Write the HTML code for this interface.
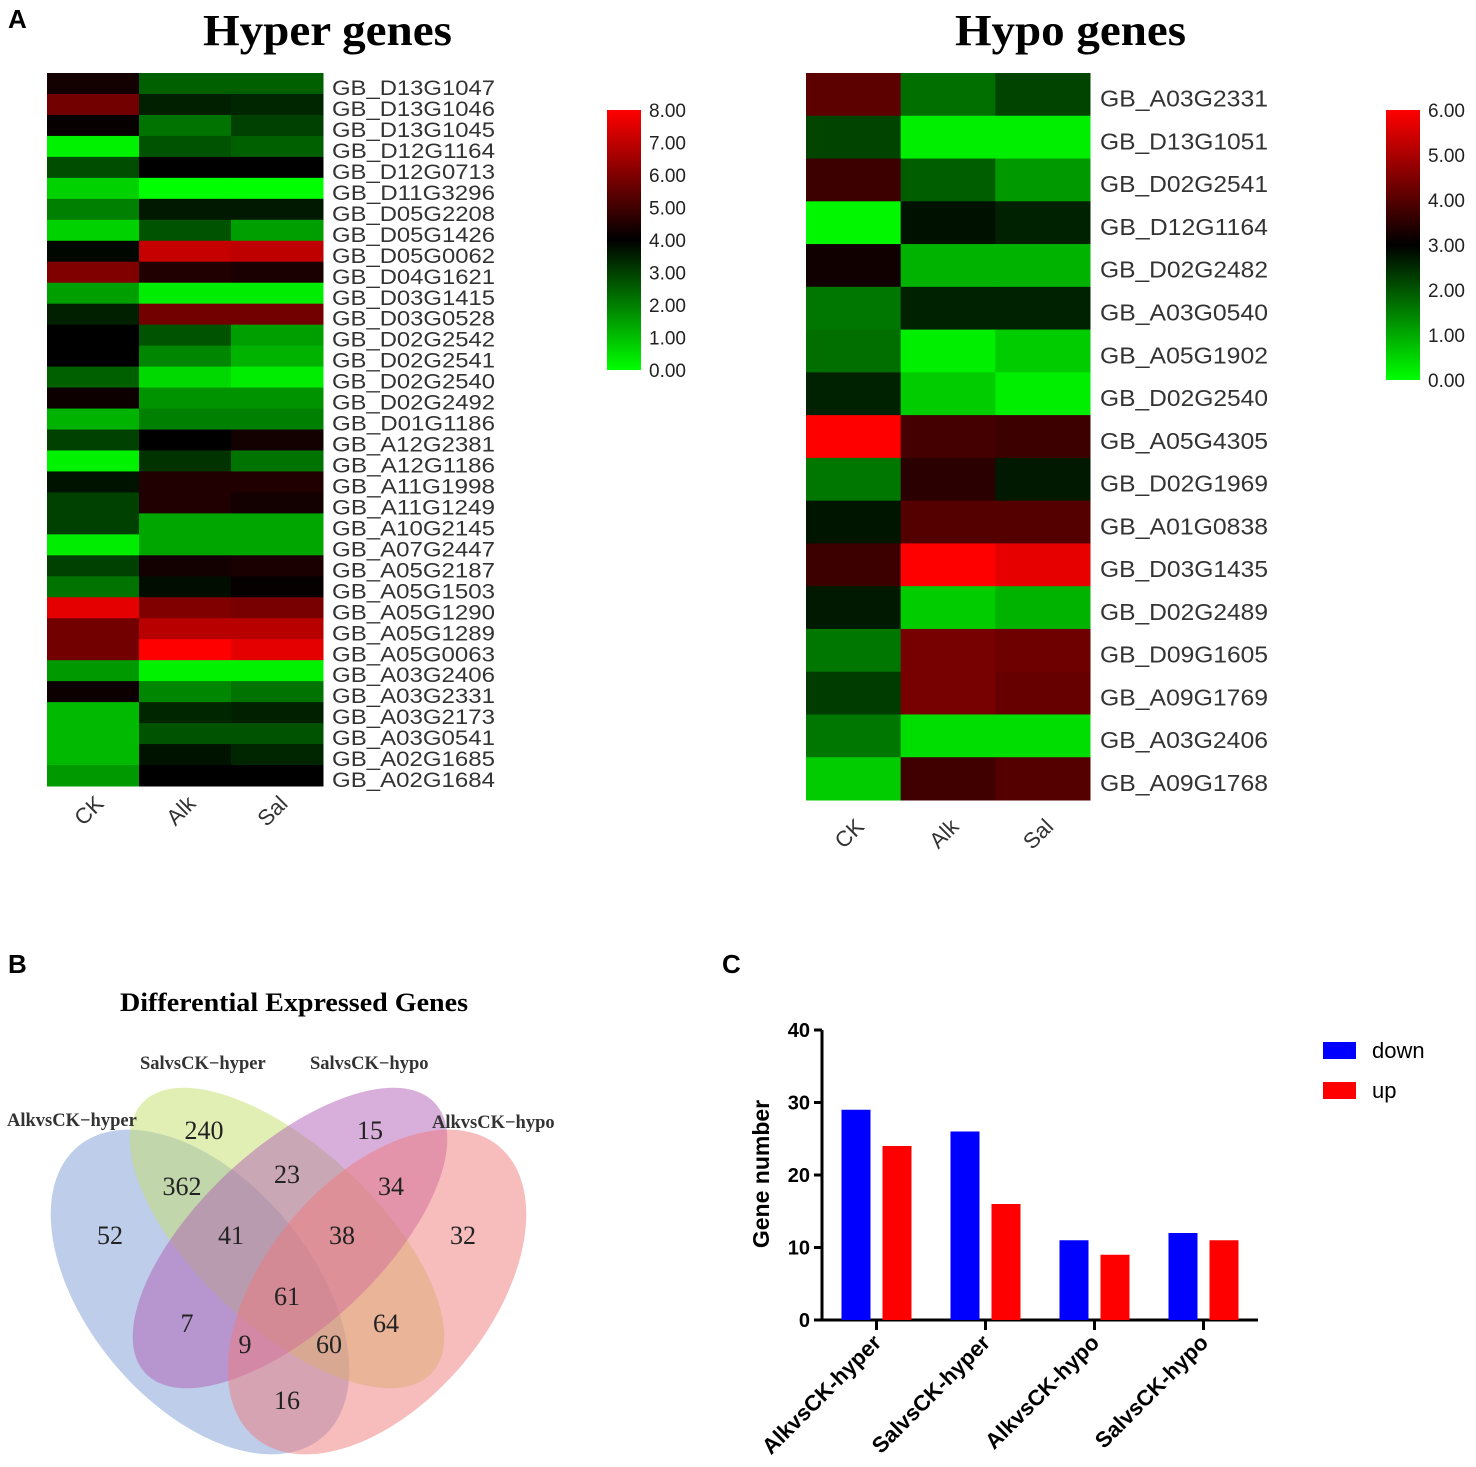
<!DOCTYPE html>
<html><head><meta charset="utf-8">
<style>
body{margin:0;background:#fff;}
svg{display:block;}
.lab{font-family:"Liberation Sans",Arial,sans-serif;}
.ser{font-family:"Liberation Serif","Times New Roman",serif;}
</style></head>
<body>
<svg id="fig" width="1476" height="1467" viewBox="0 0 1476 1467" xmlns="http://www.w3.org/2000/svg">
<text x="8" y="28" class="lab" font-size="26" font-weight="bold">A</text>
<text x="8" y="973" class="lab" font-size="26" font-weight="bold">B</text>
<text x="722" y="973" class="lab" font-size="26" font-weight="bold">C</text>
<text x="203" y="45" class="ser" font-size="44" font-weight="bold" textLength="249" lengthAdjust="spacingAndGlyphs">Hyper genes</text>
<text x="955" y="45" class="ser" font-size="44" font-weight="bold" textLength="231" lengthAdjust="spacingAndGlyphs">Hypo genes</text>
<g id="hm1"></g>
<g id="hm2"></g>
<g id="venn"></g>
<g id="bars"></g>
</svg>
<script>
const conds = ["CK","Alk","Sal"];
const hyperGenes = ["GB_D13G1047","GB_D13G1046","GB_D13G1045","GB_D12G1164","GB_D12G0713","GB_D11G3296","GB_D05G2208","GB_D05G1426","GB_D05G0062","GB_D04G1621","GB_D03G1415","GB_D03G0528","GB_D02G2542","GB_D02G2541","GB_D02G2540","GB_D02G2492","GB_D01G1186","GB_A12G2381","GB_A12G1186","GB_A11G1998","GB_A11G1249","GB_A10G2145","GB_A07G2447","GB_A05G2187","GB_A05G1503","GB_A05G1290","GB_A05G1289","GB_A05G0063","GB_A03G2406","GB_A03G2331","GB_A03G2173","GB_A03G0541","GB_A02G1685","GB_A02G1684"];
const hyperCK  = [4.3,5.8,4.1,0.2,2.8,0.7,2.0,0.7,3.9,6.0,1.5,3.5,4.0,4.0,2.5,4.2,1.2,3.0,0.2,3.7,3.0,3.0,0.3,3.0,2.2,7.6,5.8,5.8,1.6,4.2,1.1,1.1,1.1,1.6];
const hyperAlk = [2.5,3.5,2.2,2.7,4.0,0.0,3.6,2.7,7.1,4.5,0.3,5.8,2.7,1.9,0.6,1.7,2.0,4.0,3.2,4.5,4.5,1.4,1.4,4.3,3.8,6.0,6.9,8.0,0.2,1.9,3.4,2.7,3.7,4.0];
const hyperSal = [2.5,3.4,3.0,2.5,4.0,0.0,3.6,1.5,7.0,4.4,0.3,5.8,1.5,1.2,0.3,1.7,2.0,4.3,2.2,4.5,4.3,1.4,1.4,4.4,4.1,5.9,6.9,7.6,0.2,2.2,3.5,2.7,3.4,4.0];
const hypoGenes = ["GB_A03G2331","GB_D13G1051","GB_D02G2541","GB_D12G1164","GB_D02G2482","GB_A03G0540","GB_A05G1902","GB_D02G2540","GB_A05G4305","GB_D02G1969","GB_A01G0838","GB_D03G1435","GB_D02G2489","GB_D09G1605","GB_A09G1769","GB_A03G2406","GB_A09G1768"];
const hypoCK  = [4.1,2.2,3.7,0.1,3.2,1.6,1.7,2.6,6.0,1.6,2.75,3.7,2.7,1.6,2.3,1.6,0.6];
const hypoAlk = [1.7,0.2,1.9,2.8,0.9,2.6,0.2,0.6,3.8,3.5,4.0,6.0,0.6,4.4,4.4,0.4,3.75];
const hypoSal = [2.2,0.2,1.2,2.6,0.9,2.6,0.6,0.2,3.7,2.7,4.0,5.7,0.9,4.3,4.2,0.4,4.0];
const hyperTicks = ["0.00","1.00","2.00","3.00","4.00","5.00","6.00","7.00","8.00"];
const hypoTicks = ["0.00","1.00","2.00","3.00","4.00","5.00","6.00"];
const vennSets = ["AlkvsCK\u2212hyper","SalvsCK\u2212hyper","SalvsCK\u2212hypo","AlkvsCK\u2212hypo"];
const vennCounts = ["52","240","15","32","362","23","34","41","38","61","7","64","9","60","16"];
const barCats = ["AlkvsCK-hyper","SalvsCK-hyper","AlkvsCK-hypo","SalvsCK-hypo"];
const downVals = [29,26,11,12];
const upVals = [24,16,9,11];
const barTicks = [0,10,20,30,40];

const NS="http://www.w3.org/2000/svg";
function mk(tag,attrs,parent){const e=document.createElementNS(NS,tag);for(const k in attrs)e.setAttribute(k,attrs[k]);parent.appendChild(e);return e;}
function col(v,max){const mid=max/2;if(v<mid){const g=Math.round(255*(1-v/mid));return `rgb(0,${g},0)`;}const r=Math.round(255*Math.min(1,(v-mid)/mid));return `rgb(${r},0,0)`;}

function heatmap(g,genes,cols,max,x0,y0,w,h,labX,labSize,labLen,labDy,cbX,cbY0,cbY1,ticks,xlabY,cname){
  const cw=w/3,rh=h/genes.length;
  genes.forEach((gn,i)=>{
    cols.forEach((arr,j)=>{
      const r=mk('rect',{x:x0+j*cw,y:y0+i*rh,width:cw+0.5,height:rh+0.5,fill:col(arr[i],max)},g);
      
      
    });
    const t=mk('text',{x:labX,y:y0+(i+0.5)*rh+labSize*0.36+labDy,'font-size':labSize,class:'lab',fill:'#333',textLength:labLen,lengthAdjust:'spacingAndGlyphs'},g);
    t.textContent=gn;
    
    
  });
  conds.forEach((c,j)=>{
    const cx=x0+(j+0.5)*cw;
    const t=mk('text',{x:cx+12,y:xlabY,'font-size':22,class:'lab','text-anchor':'end',fill:'#333',transform:`rotate(-45 ${cx+12} ${xlabY})`},g);
    t.textContent=c;
    
    
  });
  const gid=cname+'-grad';
  const defs=mk('defs',{},g);
  const lg=mk('linearGradient',{id:gid,x1:0,y1:1,x2:0,y2:0},defs);
  mk('stop',{offset:'0',['stop-color']:'#00ff00'},lg);
  mk('stop',{offset:'0.5',['stop-color']:'#000'},lg);
  mk('stop',{offset:'1',['stop-color']:'#ff0000'},lg);
  const cb=mk('rect',{x:cbX,y:cbY0,width:34,height:cbY1-cbY0,fill:`url(#${gid})`},g);
  
  
  ticks.forEach((tk,k)=>{
    const y=cbY1-(cbY1-cbY0)*k/(ticks.length-1);
    const t=mk('text',{x:cbX+42,y:y+7,'font-size':19,class:'lab',fill:'#222'},g);
    t.textContent=tk;
    
    
  });
}
heatmap(document.getElementById('hm1'),hyperGenes,[hyperCK,hyperAlk,hyperSal],8,47,73,276,713,332,21,163,4,607,110,370,hyperTicks,805,'hyper');
heatmap(document.getElementById('hm2'),hypoGenes,[hypoCK,hypoAlk,hypoSal],6,806,73,284,727,1100,23,168,4,1386,110,380,hypoTicks,828,'hypo');

// Venn
const vg=document.getElementById('venn');
const vt=mk('text',{x:120,y:1011,'font-size':26,'font-weight':'bold',class:'ser',textLength:348,lengthAdjust:'spacingAndGlyphs'},vg);
vt.textContent='Differential Expressed Genes';


const ells=[[200,1292,190,112,50,'#7b9cd6'],[287,1238,198,90,43,'#c6df6a'],[290,1238,198,90,-43,'#b25fb6'],[377,1292,190,112,-50,'#ef7a7a']];
ells.forEach((e,i)=>{
  const el=mk('ellipse',{cx:e[0],cy:e[1],rx:e[2],ry:e[3],fill:e[5],'fill-opacity':0.5,transform:`rotate(${e[4]} ${e[0]} ${e[1]})`},vg);
  
  
});
const setPos=[[7,1126],[140,1069],[310,1069],[432,1128]];
vennSets.forEach((s,i)=>{
  const t=mk('text',{x:setPos[i][0],y:setPos[i][1],'font-size':18.5,'font-weight':'bold',class:'ser',fill:'#333'},vg);
  t.textContent=s;
  
  
});
const cPos=[[110,1235],[204,1130],[370,1130],[463,1235],[182,1186],[287,1174],[391,1186],[231,1235],[342,1235],[287,1296],[187,1323],[386,1323],[245,1344],[329,1344],[287,1400]];
vennCounts.forEach((c,i)=>{
  const t=mk('text',{x:cPos[i][0],y:cPos[i][1]+9,'font-size':26,class:'ser','text-anchor':'middle',fill:'#222'},vg);
  t.textContent=c;
  
  
});

// Bar chart
const bg=document.getElementById('bars');
const ax0=822,ax1=1258,yTop=1030,yBot=1320,yMax=40;
const ys=v=>yBot-(yBot-yTop)*v/yMax;
const gw=(ax1-ax0)/barCats.length;
const yax=mk('line',{x1:ax0,y1:yTop,x2:ax0,y2:yBot,stroke:'#000','stroke-width':3},bg);


const xax=mk('line',{x1:ax0-8,y1:yBot,x2:ax1,y2:yBot,stroke:'#000','stroke-width':3},bg);


barTicks.forEach(v=>{
  mk('line',{x1:ax0-8,y1:ys(v),x2:ax0,y2:ys(v),stroke:'#000','stroke-width':3},bg);
  const t=mk('text',{x:ax0-12,y:ys(v)+7,'font-size':20,'font-weight':'bold',class:'lab','text-anchor':'end'},bg);
  t.textContent=v;
  
  
});
const yl=mk('text',{x:769,y:1174,'font-size':23,'font-weight':'bold',class:'lab','text-anchor':'middle',transform:'rotate(-90 769 1174)'},bg);
yl.textContent='Gene number';


barCats.forEach((c,i)=>{
  const cx=ax0+gw*(i+0.5);
  const b1=mk('rect',{x:cx-35,y:ys(downVals[i]),width:29,height:yBot-ys(downVals[i]),fill:'#0000ff'},bg);
  
  
  const b2=mk('rect',{x:cx+6,y:ys(upVals[i]),width:29,height:yBot-ys(upVals[i]),fill:'#ff0000'},bg);
  
  
  mk('line',{x1:cx,y1:yBot,x2:cx,y2:yBot+10,stroke:'#000','stroke-width':3},bg);
  const t=mk('text',{x:cx+6,y:yBot+24,'font-size':22,'font-weight':'bold',class:'lab','text-anchor':'end',transform:`rotate(-45 ${cx+6} ${yBot+24})`},bg);
  t.textContent=c;
  
  
});
[['down','#0000ff',1042],['up','#ff0000',1082]].forEach(l=>{
  const r=mk('rect',{x:1323,y:l[2],width:33,height:17,fill:l[1]},bg);
  
  
  const t=mk('text',{x:1372,y:l[2]+16,'font-size':22,class:'lab'},bg);
  t.textContent=l[0];
  
  
});
</script>
</body></html>
